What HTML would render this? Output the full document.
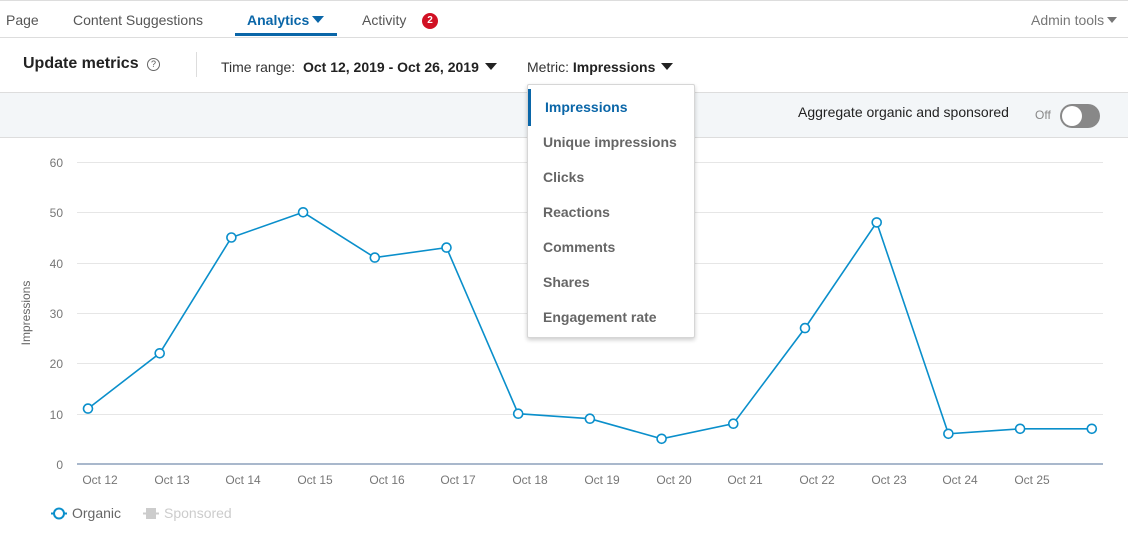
<!DOCTYPE html>
<html><head><meta charset="utf-8"><style>
*{margin:0;padding:0;box-sizing:border-box}
body{width:1128px;height:537px;background:#fff;font-family:"Liberation Sans",sans-serif;position:relative;overflow:hidden;color:#333}
.a{position:absolute;white-space:nowrap}
.tab{font-size:14px;color:#555;top:12px}
.tri{display:inline-block;width:0;height:0;border-left:6px solid transparent;border-right:6px solid transparent;border-top:7px solid currentColor;vertical-align:2px;margin-left:3px}
.dd{position:absolute;left:527px;top:84px;width:168px;height:254px;background:#fff;border:1px solid #d6d6d6;box-shadow:0 2px 4px rgba(0,0,0,.2);border-radius:2px}
.dd div{position:absolute;left:15px;font-size:14px;font-weight:bold;color:#666}
</style></head><body>
<div class="a" style="left:0;top:0;width:1128px;height:1px;background:#ddd"></div>
<div class="a tab" style="left:6px">Page</div>
<div class="a tab" style="left:73px">Content Suggestions</div>
<div class="a tab" style="left:247px;color:#0a66a8;font-weight:bold">Analytics<span class="tri"></span></div>
<div class="a" style="left:235px;top:33px;width:102px;height:3px;background:#0a66a8"></div>
<div class="a tab" style="left:362px">Activity</div>
<div class="a" style="left:422px;top:13px;width:16px;height:16px;border-radius:8px;background:#d11124;color:#fff;font-size:10px;text-align:center;line-height:16px;font-weight:bold">2</div>
<div class="a tab" style="left:1031px;color:#777">Admin tools<span class="tri" style="border-left-width:5px;border-right-width:5px;border-top-width:6px"></span></div>
<div class="a" style="left:0;top:37px;width:1128px;height:1px;background:#ddd"></div>
<div class="a" style="left:23px;top:55px;font-size:16px;font-weight:bold;color:#222">Update metrics <span style="font-weight:normal;color:#555;border:1.5px solid #666;border-radius:50%;display:inline-block;width:13px;height:13px;line-height:11px;text-align:center;font-size:9px;vertical-align:1px;margin-left:4px">?</span></div>
<div class="a" style="left:196px;top:52px;width:1px;height:25px;background:#ddd"></div>
<div class="a" style="left:221px;top:59px;font-size:14px;color:#333">Time range:&nbsp; <b style="color:#222">Oct 12, 2019 - Oct 26, 2019</b><span class="tri" style="color:#222;margin-left:6px"></span></div>
<div class="a" style="left:527px;top:59px;font-size:14px;color:#333">Metric: <b style="color:#222">Impressions</b><span class="tri" style="color:#222;margin-left:6px"></span></div>
<div class="a" style="left:0;top:92px;width:1128px;height:46px;background:#f3f6f8;border-top:1px solid #ddd;border-bottom:1px solid #ddd"></div>
<div class="a" style="left:798px;top:104px;font-size:14px;color:#222">Aggregate organic and sponsored</div>
<div class="a" style="left:1035px;top:108px;font-size:12px;color:#888">Off</div>
<div class="a" style="left:1060px;top:104px;width:40px;height:24px;border-radius:12px;background:#888"></div>
<div class="a" style="left:1062px;top:106px;width:20px;height:20px;border-radius:10px;background:#fff"></div>
<svg class="a" style="left:0;top:0" width="1128" height="537">
<g stroke="#e6e6e6" stroke-width="1">
<line x1="77" x2="1103" y1="162.5" y2="162.5"/><line x1="77" x2="1103" y1="212.5" y2="212.5"/><line x1="77" x2="1103" y1="263.5" y2="263.5"/><line x1="77" x2="1103" y1="313.5" y2="313.5"/><line x1="77" x2="1103" y1="363.5" y2="363.5"/><line x1="77" x2="1103" y1="414.5" y2="414.5"/>
</g>
<line x1="77" x2="1103" y1="464" y2="464" stroke="#a9b8cc" stroke-width="2"/>
<g font-family="Liberation Sans" font-size="12" fill="#777" text-anchor="end">
<text x="63" y="167">60</text><text x="63" y="217">50</text><text x="63" y="268">40</text><text x="63" y="318">30</text><text x="63" y="368">20</text><text x="63" y="419">10</text><text x="63" y="469">0</text>
</g>
<text transform="translate(30,313) rotate(-90)" font-family="Liberation Sans" font-size="12" fill="#666" text-anchor="middle">Impressions</text>
<g font-family="Liberation Sans" font-size="12" fill="#777" text-anchor="middle">
<text x="100" y="484">Oct 12</text><text x="172" y="484">Oct 13</text><text x="243" y="484">Oct 14</text><text x="315" y="484">Oct 15</text><text x="387" y="484">Oct 16</text><text x="458" y="484">Oct 17</text><text x="530" y="484">Oct 18</text><text x="602" y="484">Oct 19</text><text x="674" y="484">Oct 20</text><text x="745" y="484">Oct 21</text><text x="817" y="484">Oct 22</text><text x="889" y="484">Oct 23</text><text x="960" y="484">Oct 24</text><text x="1032" y="484">Oct 25</text>
</g>
<polyline fill="none" stroke="#0a8fcb" stroke-width="1.6" points="88,408.6 159.7,353.3 231.4,237.5 303.1,212.3 374.8,257.6 446.5,247.6 518.2,413.7 589.9,418.7 661.6,438.8 733.3,423.7 805,328.1 876.7,222.4 948.4,433.8 1020.1,428.8 1091.8,428.8"/>
<g fill="#fff" stroke="#0a8fcb" stroke-width="1.6">
<circle cx="88" cy="408.6" r="4.5"/><circle cx="159.7" cy="353.3" r="4.5"/><circle cx="231.4" cy="237.5" r="4.5"/><circle cx="303.1" cy="212.3" r="4.5"/><circle cx="374.8" cy="257.6" r="4.5"/><circle cx="446.5" cy="247.6" r="4.5"/><circle cx="518.2" cy="413.7" r="4.5"/><circle cx="589.9" cy="418.7" r="4.5"/><circle cx="661.6" cy="438.8" r="4.5"/><circle cx="733.3" cy="423.7" r="4.5"/><circle cx="805" cy="328.1" r="4.5"/><circle cx="876.7" cy="222.4" r="4.5"/><circle cx="948.4" cy="433.8" r="4.5"/><circle cx="1020.1" cy="428.8" r="4.5"/><circle cx="1091.8" cy="428.8" r="4.5"/>
</g>
<line x1="51" x2="67" y1="513.5" y2="513.5" stroke="#0a8fcb" stroke-width="2"/>
<circle cx="59" cy="513.5" r="5" fill="#fff" stroke="#0a8fcb" stroke-width="2"/>
<text x="72" y="518" font-family="Liberation Sans" font-size="14" fill="#666">Organic</text>
<line x1="143" x2="159" y1="513.5" y2="513.5" stroke="#ccc" stroke-width="2"/>
<rect x="146" y="508" width="10" height="11" fill="#ccc"/>
<text x="164" y="518" font-family="Liberation Sans" font-size="14" fill="#ccc">Sponsored</text>
</svg>
<div class="dd">
<div style="left:0;top:4px;width:3px;height:37px;background:#0a66a8"></div>
<div style="top:14px;left:17px;color:#0a66a8">Impressions</div>
<div style="top:49px">Unique impressions</div>
<div style="top:84px">Clicks</div>
<div style="top:119px">Reactions</div>
<div style="top:154px">Comments</div>
<div style="top:189px">Shares</div>
<div style="top:224px">Engagement rate</div>
</div>
</body></html>
